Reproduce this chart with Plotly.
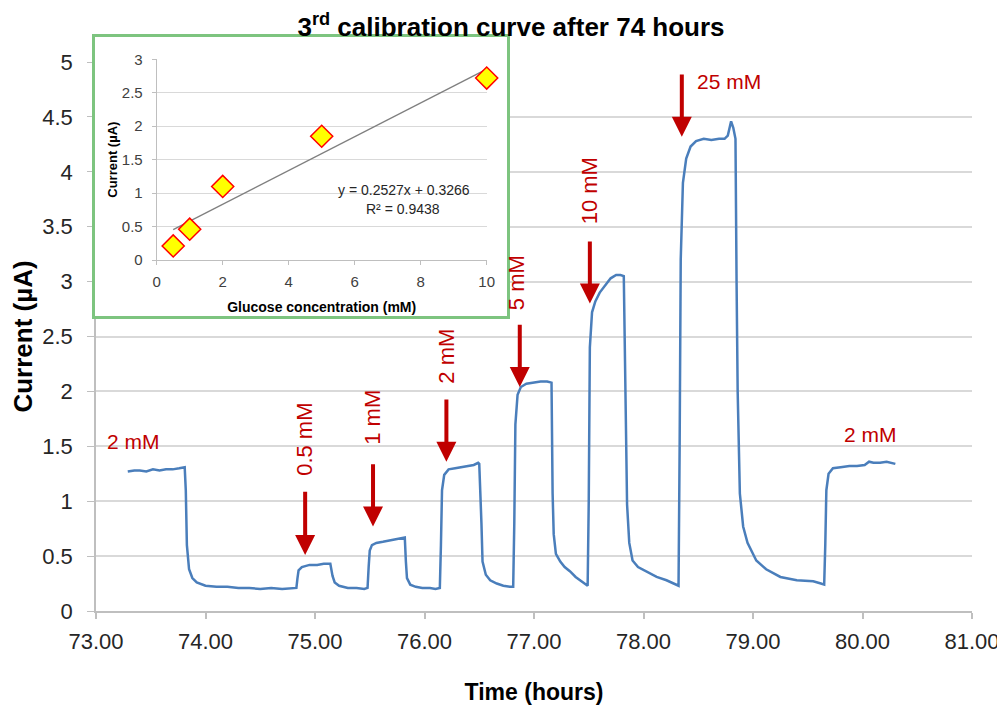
import plotly.graph_objects as go

# ---------------- data ----------------
time_h = [
    73.29, 73.35, 73.40, 73.46, 73.52, 73.58, 73.64, 73.70, 73.76, 73.81,
    73.82, 73.83, 73.85, 73.88, 73.92, 74.00, 74.10, 74.20, 74.30, 74.40, 74.50, 74.60, 74.70, 74.78, 74.83,
    74.84, 74.85, 74.88, 74.95, 75.02, 75.08, 75.14,
    75.16, 75.18, 75.22, 75.30, 75.38, 75.45, 75.48,
    75.49, 75.50, 75.52, 75.56, 75.62, 75.68, 75.74, 75.80, 75.82,
    75.83, 75.84, 75.87, 75.92, 75.98, 76.05, 76.10, 76.14,
    76.15, 76.16, 76.18, 76.22, 76.28, 76.34, 76.40, 76.45, 76.49, 76.50,
    76.52, 76.53, 76.56, 76.60, 76.66, 76.72, 76.78, 76.81,
    76.82, 76.83, 76.85, 76.88, 76.93, 77.00, 77.06, 77.12, 77.16,
    77.17, 77.18, 77.20, 77.24, 77.28, 77.33, 77.38, 77.42, 77.46, 77.49,
    77.50, 77.51, 77.53, 77.56, 77.60, 77.65, 77.70, 77.75, 77.79, 77.82,
    77.84, 77.85, 77.87, 77.90, 77.95, 78.03, 78.12, 78.21, 78.28, 78.32,
    78.33, 78.34, 78.36, 78.39, 78.43, 78.48, 78.55, 78.62, 78.69, 78.74, 78.77, 78.80, 78.82, 78.84,
    78.85, 78.86, 78.88, 78.91, 78.95, 79.03, 79.12, 79.25, 79.40, 79.55, 79.62, 79.65,
    79.66, 79.67, 79.69, 79.73, 79.80, 79.88, 79.95, 80.02, 80.06, 80.10, 80.16, 80.22, 80.30,
]
current_uA = [
    1.27, 1.28, 1.28, 1.27, 1.29, 1.28, 1.29, 1.29, 1.30, 1.31,
    1.10, 0.60, 0.38, 0.30, 0.26, 0.23, 0.22, 0.22, 0.21, 0.21, 0.20, 0.21, 0.20, 0.21, 0.21,
    0.30, 0.37, 0.40, 0.42, 0.42, 0.43, 0.43,
    0.32, 0.26, 0.23, 0.21, 0.21, 0.20, 0.21,
    0.40, 0.55, 0.60, 0.62, 0.63, 0.64, 0.65, 0.66, 0.67,
    0.45, 0.30, 0.24, 0.22, 0.21, 0.21, 0.20, 0.21,
    0.60, 1.10, 1.24, 1.29, 1.30, 1.31, 1.32, 1.33, 1.35, 1.34,
    0.80, 0.45, 0.33, 0.28, 0.25, 0.23, 0.22, 0.22,
    0.80, 1.70, 1.97, 2.04, 2.07, 2.08, 2.09, 2.09, 2.08,
    1.07, 0.70, 0.52, 0.45, 0.40, 0.36, 0.31, 0.28, 0.25, 0.23,
    1.00, 2.40, 2.72, 2.82, 2.90, 2.97, 3.03, 3.06, 3.06, 3.05,
    1.50, 0.97, 0.62, 0.46, 0.40, 0.36, 0.31, 0.28, 0.25, 0.23,
    1.50, 3.20, 3.90, 4.12, 4.23, 4.28, 4.30, 4.29, 4.30, 4.30, 4.33, 4.46, 4.40, 4.30,
    3.00, 2.00, 1.07, 0.77, 0.62, 0.46, 0.38, 0.31, 0.28, 0.27, 0.25, 0.24,
    0.60, 1.10, 1.25, 1.30, 1.31, 1.32, 1.32, 1.33, 1.36, 1.35, 1.35, 1.36, 1.34,
]

# inset calibration data
conc_mM = [0.5, 1, 2, 5, 10]
inset_current_uA = [0.21, 0.46, 1.10, 1.85, 2.72]
fit_slope = 0.2527
fit_intercept = 0.3266
fit_r2 = 0.9438

x_ticks = [73, 74, 75, 76, 77, 78, 79, 80, 81]
y_ticks = [0, 0.5, 1, 1.5, 2, 2.5, 3, 3.5, 4, 4.5, 5]
inset_x_ticks = [0, 2, 4, 6, 8, 10]
inset_y_ticks = [0, 0.5, 1, 1.5, 2, 2.5, 3]

# injection annotations (time of arrow, arrow top, arrow tip, label centre)
arrow_labels = ["0.5 mM", "1 mM", "2 mM", "5 mM", "10 mM"]
arrow_times = [74.91, 75.53, 76.20, 76.87, 77.51]
arrow_tops = [1.10, 1.35, 1.94, 2.62, 3.38]
arrow_tips = [0.51, 0.77, 1.36, 2.04, 2.80]
label_times = [74.91, 75.53, 76.20, 76.84, 77.51]
label_levels = [1.56, 1.76, 2.32, 2.99, 3.83]

top_arrow_label = "25 mM"
top_arrow_time = 78.35
top_arrow_top = 4.90
top_arrow_tip = 4.32

side_label = "2 mM"
side_label_times = [73.34, 80.07]
side_label_levels = [1.54, 1.61]

# ---------------- styling ----------------
FONT = "Liberation Sans, Arial, sans-serif"
RED = "#C00000"
BLUE = "#4A7EBB"
GRID = "#D9D9D9"
AXIS = "#BFBFBF"
GREEN = "#7DC47F"
TXT = "#262626"

fig = go.Figure()

fig.add_trace(go.Scatter(x=time_h, y=current_uA, mode="lines",
                         line=dict(color=BLUE, width=2.5), xaxis="x", yaxis="y",
                         showlegend=False, hoverinfo="skip"))

# empty trace to create the framed box subplot
fig.add_trace(go.Scatter(x=[], y=[], xaxis="x2", yaxis="y2", showlegend=False))

fit_x = [min(conc_mM), max(conc_mM)]
fit_y = [fit_slope * v + fit_intercept for v in fit_x]
fig.add_trace(go.Scatter(x=fit_x, y=fit_y, mode="lines",
                         line=dict(color="#7F7F7F", width=1.3), xaxis="x3", yaxis="y3",
                         showlegend=False, hoverinfo="skip"))
fig.add_trace(go.Scatter(x=conc_mM, y=inset_current_uA, mode="markers", cliponaxis=False,
                         marker=dict(symbol="diamond", size=17, color="#FFFF00",
                                     line=dict(color="#FF0000", width=1.5)),
                         xaxis="x3", yaxis="y3", showlegend=False, hoverinfo="skip"))

annotations = []
for lab, t, top, tip, lt, ll in zip(arrow_labels, arrow_times, arrow_tops, arrow_tips,
                                    label_times, label_levels):
    annotations.append(dict(x=t, y=tip, ax=t, ay=top, xref="x", yref="y", axref="x", ayref="y",
                            text="", showarrow=True, arrowhead=2, arrowsize=1, arrowwidth=4,
                            arrowcolor=RED))
    annotations.append(dict(x=lt, y=ll, xref="x", yref="y", text=lab, showarrow=False,
                            textangle=-90, font=dict(family=FONT, size=22, color=RED)))
annotations.append(dict(x=top_arrow_time, y=top_arrow_tip, ax=top_arrow_time, ay=top_arrow_top,
                        xref="x", yref="y", axref="x", ayref="y", text="", showarrow=True,
                        arrowhead=2, arrowsize=1, arrowwidth=4, arrowcolor=RED))
annotations.append(dict(x=top_arrow_time + 0.12, y=top_arrow_top - 0.08, xref="x", yref="y",
                        text=top_arrow_label, showarrow=False, xanchor="left",
                        font=dict(family=FONT, size=21, color=RED)))
for t, lv in zip(side_label_times, side_label_levels):
    annotations.append(dict(x=t, y=lv, xref="x", yref="y", text=side_label, showarrow=False,
                            font=dict(family=FONT, size=21, color=RED)))

annotations.append(dict(x=7.5, y=1.04, xref="x3", yref="y3",
                        text=f"y = {fit_slope}x + {fit_intercept}", showarrow=False,
                        font=dict(family=FONT, size=14, color=TXT)))
annotations.append(dict(x=7.45, y=0.76, xref="x3", yref="y3",
                        text=f"R² = {fit_r2}", showarrow=False,
                        font=dict(family=FONT, size=14, color=TXT)))

# the page body adds an 8 px offset; reference pixel positions are shifted by it
OFF = 8
W, H = 1005 - OFF, 707 - OFF
ml, mr, mt, mb = 95 - OFF, W - (972 - OFF), 37 - OFF, H - (611 - OFF)
pw, ph = W - ml - mr, H - mt - mb


def dx(px):
    return min(1.0, max(0.0, (px - OFF - ml) / pw))


def dy(py):
    return min(1.0, max(0.0, (H - mb - (py - OFF)) / ph))


fig.update_layout(
    width=W, height=H,
    margin=dict(l=ml, r=mr, t=mt, b=mb, pad=0),
    paper_bgcolor="white", plot_bgcolor="white",
    font=dict(family=FONT, color=TXT),
    title=dict(text="<b>3<sup>rd</sup> calibration curve after 74 hours</b>",
               x=(511 - OFF) / W, xanchor="center", y=1 - (27 - OFF) / H, yanchor="middle",
               xref="container", yref="container",
               font=dict(family=FONT, size=26, color="#000000")),
    annotations=annotations,
    xaxis=dict(domain=[dx(96), 1], range=[73, 81], tickvals=x_ticks, tickformat=".2f",
               showgrid=False, zeroline=False, showline=True, linecolor=AXIS, linewidth=2,
               ticks="outside", ticklen=6, tickcolor=AXIS, tickwidth=1.5,
               tickfont=dict(family=FONT, size=22, color=TXT), anchor="y",
               ticklabelstandoff=4,
               title=dict(text="<b>Time (hours)</b>", standoff=30,
                          font=dict(family=FONT, size=23, color="#000000")),
               automargin=False),
    yaxis=dict(domain=[0, dy(62)], range=[0, 5], tickvals=y_ticks,
               showgrid=True, gridcolor=GRID, gridwidth=1.5, zeroline=False,
               showline=True, linecolor=AXIS, linewidth=1.5,
               ticks="outside", ticklen=7, tickcolor=AXIS,
               tickfont=dict(family=FONT, size=22, color=TXT), anchor="x",
               ticklabelstandoff=10,
               title=dict(text="<b>Current (µA)</b>", standoff=4,
                          font=dict(family=FONT, size=26, color="#000000")),
               automargin=False),
    xaxis2=dict(domain=[dx(95), dx(507)], range=[0, 1], anchor="y2", showgrid=False,
                zeroline=False, showticklabels=False, ticks="", showline=True, mirror=True,
                linecolor=GREEN, linewidth=2.5, fixedrange=True),
    yaxis2=dict(domain=[dy(316), 1], range=[0, 1], anchor="x2", showgrid=False,
                zeroline=False, showticklabels=False, ticks="", showline=True, mirror=True,
                linecolor=GREEN, linewidth=2.5, fixedrange=True),
    xaxis3=dict(domain=[dx(156.7), dx(486.7)], range=[0, 10], tickvals=inset_x_ticks,
                anchor="y3", showgrid=False, zeroline=False, showline=True, linecolor=AXIS,
                linewidth=1, ticks="outside", ticklen=4, tickcolor=AXIS,
                tickfont=dict(family=FONT, size=15, color="#404040"),
                ticklabelstandoff=4,
                title=dict(text="<b>Glucose concentration (mM)</b>", standoff=13,
                           font=dict(family=FONT, size=14, color="#000000")),
                automargin=False),
    yaxis3=dict(domain=[dy(260), dy(59.3)], range=[0, 3], tickvals=inset_y_ticks,
                anchor="x3", showgrid=True, gridcolor=GRID, gridwidth=1, zeroline=False,
                showline=True, linecolor=AXIS, linewidth=1, ticks="outside", ticklen=4,
                tickcolor=AXIS, tickfont=dict(family=FONT, size=15, color="#404040"),
                ticklabelstandoff=6,
                title=dict(text="<b>Current (µA)</b>", standoff=1,
                           font=dict(family=FONT, size=13, color="#000000")),
                automargin=False),
)

fig.write_html("out.html")
